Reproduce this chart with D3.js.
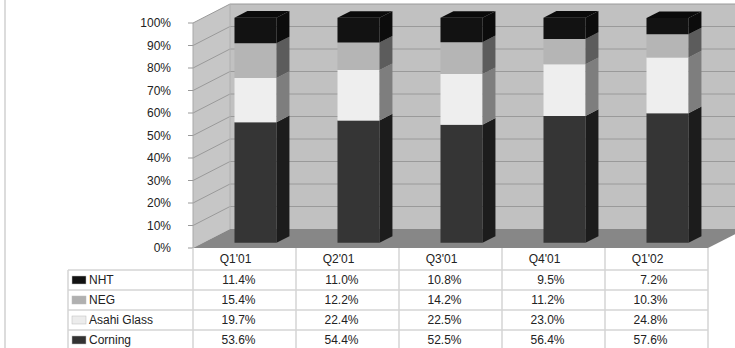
<!DOCTYPE html>
<html><head><meta charset="utf-8">
<script src="https://cdn.jsdelivr.net/npm/d3@7"></script>
<style>html,body{margin:0;padding:0;background:#fff;overflow:hidden}svg{display:block}</style>
</head><body>
<svg id="c" width="735" height="348"></svg>
<script>
const categories = ["Q1'01","Q2'01","Q3'01","Q4'01","Q1'02"];
const seriesNames = ["Corning","Asahi Glass","NEG","NHT"];
const corning = [53.6,54.4,52.5,56.4,57.6];
const asahi = [19.7,22.4,22.5,23.0,24.8];
const neg = [15.4,12.2,14.2,11.2,10.3];
const nht = [11.4,11.0,10.8,9.5,7.2];
const yTicks = [0,10,20,30,40,50,60,70,80,90,100];
const tableOrder = ["NHT","NEG","Asahi Glass","Corning"];

const seriesVals = {"Corning":corning,"Asahi Glass":asahi,"NEG":neg,"NHT":nht};
const colors = {
  "Corning":{front:"#353535",side:"#1c1c1c",top:"#2a2a2a",sw:"#333"},
  "Asahi Glass":{front:"#eeeeee",side:"#7e7e7e",top:"#dcdcdc",sw:"#ececec"},
  "NEG":{front:"#b5b5b5",side:"#5c5c5c",top:"#9a9a9a",sw:"#b0b0b0"},
  "NHT":{front:"#121212",side:"#0c0c0c",top:"#0a0a0a",sw:"#111"}
};

const svg = d3.select("#c");
const x0 = 193, x1 = 708;
const y = d3.scaleLinear().domain([0,100]).range([248,23]);
const xb = d3.scaleBand().domain(categories).range([x0,x1]).paddingInner(0).paddingOuter(0);
const DX = 37, DY = -19;
const P = (x, v, d) => [x + d*DX, y(v) + d*DY];
const poly = pts => pts.map(p => p.join(",")).join(" ");

// frame line
svg.append("line").attr("x1",5).attr("x2",5).attr("y1",0).attr("y2",348).attr("stroke","#dcdcdc").attr("stroke-width",2);

// back wall
svg.append("polygon").attr("points", poly([P(x0,0,1),P(x0,100,1),P(x1,100,1),P(x1,0,1)])).attr("fill","#c1c1c1");
// left wall
svg.append("polygon").attr("points", poly([P(x0,0,0),P(x0,100,0),P(x0,100,1),P(x0,0,1)])).attr("fill","#c6c6c6");
// floor
svg.append("polygon").attr("points", poly([P(x0,0,0),P(x0,0,1),P(x1,0,1),P(x1,0,0)])).attr("fill","#878787");

// gridlines
yTicks.forEach(t => {
  if (t === 0) return;
  const a = P(x0,t,0), b = P(x0,t,1), c = P(x1,t,1);
  svg.append("polyline").attr("points", poly([a,b,c])).attr("fill","none").attr("stroke","#9a9a9a").attr("stroke-width",1);
});
svg.append("line").attr("x1",x0+DX).attr("x2",x0+DX).attr("y1",y(0)+DY).attr("y2",y(100)+DY).attr("stroke","#b0b0b0");
svg.append("line").attr("x1",x0).attr("x2",x0).attr("y1",y(0)).attr("y2",y(100)).attr("stroke","#a8a8a8");

// y axis ticks + labels
const ax = svg.append("g");
yTicks.forEach(t => {
  ax.append("line").attr("x1",x0-5).attr("x2",x0).attr("y1",y(t)).attr("y2",y(t)).attr("stroke","#999");
  ax.append("text").attr("x",171).attr("y",y(t)).attr("dy","0.35em").attr("text-anchor","end")
    .attr("font-family","Liberation Sans, Arial, sans-serif").attr("font-size",12).attr("fill","#222").text(t+"%");
});

// bars
const dF = 0.27, dB = 0.62, bw = 42;
categories.forEach((cat, i) => {
  const cx = xb(cat) + xb.bandwidth()/2;
  const xl = cx - bw/2 + 1, xr = xl + bw;
  let base = 0;
  const g = svg.append("g");
  seriesNames.forEach((s, k) => {
    const v = seriesVals[s][i];
    const top = base + v;
    const col = colors[s];
    g.append("polygon").attr("points", poly([P(xl,base,dF),P(xl,top,dF),P(xr,top,dF),P(xr,base,dF)])).attr("fill",col.front);
    g.append("polygon").attr("points", poly([P(xr,base,dF),P(xr,top,dF),P(xr,top,dB),P(xr,base,dB)])).attr("fill",col.side);
    if (k === seriesNames.length-1) {
      g.append("polygon").attr("points", poly([P(xl,top,dF),P(xl,top,dB),P(xr,top,dB),P(xr,top,dF)])).attr("fill",col.top);
    }
    base = top;
  });
});

// table
const font = "Liberation Sans, Arial, sans-serif";
const tg = svg.append("g");
const tx0 = 68;
const rowTops = [248,270,290,310,330,350];
const lc = "#d4d4d4";
rowTops.slice(1,5).forEach(r => tg.append("line").attr("x1",tx0).attr("x2",x1).attr("y1",r).attr("y2",r).attr("stroke",lc).attr("stroke-width",1.5));
tg.append("line").attr("x1",tx0).attr("x2",tx0).attr("y1",270).attr("y2",348).attr("stroke",lc).attr("stroke-width",1.5);
categories.forEach(cat => {
  tg.append("line").attr("x1",xb(cat)).attr("x2",xb(cat)).attr("y1",248).attr("y2",348).attr("stroke",lc).attr("stroke-width",1.5);
});
tg.append("line").attr("x1",x1).attr("x2",x1).attr("y1",248).attr("y2",348).attr("stroke",lc).attr("stroke-width",1.5);

categories.forEach(cat => {
  const cx = xb(cat) + xb.bandwidth()/2;
  tg.append("text").attr("x",cx-9).attr("y",259).attr("dy","0.35em").attr("text-anchor","middle")
    .attr("font-family",font).attr("font-size",12).attr("fill","#222").text(cat);
});
tableOrder.forEach((s, r) => {
  const yc = (rowTops[r+1] + rowTops[r+2]) / 2;
  tg.append("rect").attr("x",72).attr("y",yc-4).attr("width",14).attr("height",8).attr("fill",colors[s].sw).attr("stroke","#bbb").attr("stroke-width",0.5);
  tg.append("text").attr("x",89).attr("y",yc).attr("dy","0.35em").attr("font-family",font).attr("font-size",12).attr("fill","#222").text(s);
  categories.forEach((cat, i) => {
    const cx = xb(cat) + xb.bandwidth()/2;
    tg.append("text").attr("x",cx+11).attr("y",yc).attr("dy","0.35em").attr("text-anchor","end")
      .attr("font-family",font).attr("font-size",12).attr("fill","#222").text(seriesVals[s][i].toFixed(1)+"%");
  });
});
</script>
</body></html>
